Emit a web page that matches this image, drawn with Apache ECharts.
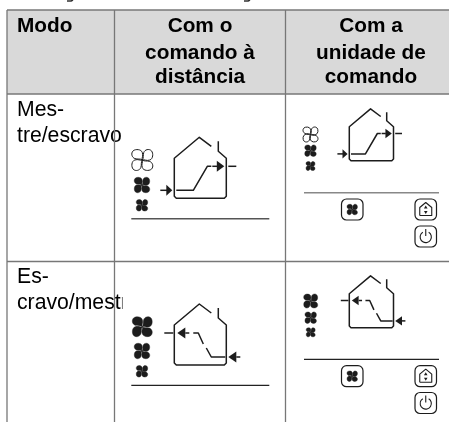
<!DOCTYPE html>
<html><head><meta charset="utf-8">
<style>html,body{margin:0;padding:0;background:#fff}#c{width:449px;height:422px}</style>
<script src="https://cdn.jsdelivr.net/npm/echarts@6/dist/echarts.min.js"></script>
</head><body><div id="c"></div>
<script>
// ---- content ----
const headerLabels = ['Modo', ['Com o','comando à','distância'], ['Com a','unidade de','comando']];
const modeLabels = [['Mes-','tre/escravo'], ['Es-','cravo/mestr']];
const fanStates = [['outline','filled','filled'], ['filled','filled','filled']];
const flowDirections = ['in', 'out'];

// ---- layout (in page pixels, mapped through hidden value axes) ----
const W = 449, H = 422;
const ink = '#1c1c1c';
const els = [];
const poly = (pts, lw=1.5, col=ink, z=2) => els.push({k:'poly', pts, lw, col, z});
const rect = (x,y,w,h,fill,z=0,r=0,stroke=null,lw=1) => els.push({k:'rect', x,y,w,h,fill,z,r,stroke,lw});
const text = (s,x,y,bold,align='left',z=1) => els.push({k:'text', s,x,y,bold,align,z});
const tri = (tip,base,half) => els.push({k:'poly', pts:[[tip,base[1]],[base[0],base[1]-half],[base[0],base[1]+half]], lw:0, col:ink, z:2, fill:true});

// petal-based fan path in a 100x100 box
function fanPath(){
  const petal = [[50,50],[46,40],[56,30],[50,14],[45,-2],[18,-4],[6,6],[-6,18],[0,38],[14,43],[28,48],[40,42],[50,50]];
  const rot = (p,n)=>{let [x,y]=p;for(let i=0;i<n;i++){[x,y]=[100-y,x];}return [x.toFixed(1),y.toFixed(1)];};
  let d='';
  for(let n=0;n<4;n++){
    const q=petal.map(p=>rot(p,n));
    d+=`M${q[0][0]} ${q[0][1]}`;
    for(let i=1;i<q.length;i+=3) d+=`C${q[i][0]} ${q[i][1]} ${q[i+1][0]} ${q[i+1][1]} ${q[i+2][0]} ${q[i+2][1]}`;
    d+='Z';
  }
  return d;
}
const FAN = fanPath();
const fan = (cx,cy,size,outline) => els.push({k:'fan',cx,cy,size,outline,z:2});

// table
rect(7,10,W-7,84,'#d9d9d9',0);
const gridCol = '#777';
[[7,10,7,H],[114.5,10,114.5,H],[285.5,10,285.5,H],[7,10,W,10],[7,94,W,94],[7,261.5,W,261.5]]
  .forEach(l=>poly([[l[0],l[1]],[l[2],l[3]]],1.3,gridCol,3));

// descender fragments of the cropped line above the table
poly([[67,1],[71,1],[73,0]],1.6,'#333');
poly([[244,1],[248,1],[250,0]],1.6,'#333');

// header
text(headerLabels[0],17,32,true);
const base=[32,58.5,83];
headerLabels[1].forEach((s,i)=>text(s,200,base[i],true,'center'));
headerLabels[2].forEach((s,i)=>text(s,371,base[i],true,'center'));
// row labels
const rowBase=[[116,142],[283,309]];
modeLabels.forEach((ls,r)=>ls.forEach((s,i)=>text(s,17,rowBase[r][i],false)));
rect(122.5,292,30,24,'#fff',1);

// panels: origin + scale
function house(o,s,flow){
  const P=(x,y)=>[o[0]+x*s,o[1]+y*s];
  poly([P(37,-52),P(25,-61),P(0,-40),P(0,-2),P(2,0),P(50,0),P(52,-2),P(52,-40),P(44,-47),P(44,-57)],1.5);
  if(flow==='in'){
    poly([P(-14,-8),P(-6,-8)],1.5);
    tri(P(-2,-8)[0],P(-8,-8),5.5*s);
    poly([P(2,-8),P(19,-8),P(33,-32),P(37,-32)],1.5);
    poly([P(38,-32),P(43,-32)],1.5);
    tri(P(50,-32)[0],P(42.5,-32),5.5*s);
    poly([P(54,-32),P(62,-32)],1.5);
  } else {
    poly([P(-10,-32),P(-1,-32)],1.5);
    tri(P(3,-32)[0],P(11,-32),5.5*s);
    poly([P(11,-32),P(15,-32)],1.5);
    poly([P(19,-32),P(24,-32),P(29,-21)],1.5);
    poly([P(32,-17),P(37,-8),P(51,-8)],1.5);
    tri(P(54,-8)[0],P(62,-8),5.5*s);
    poly([P(62,-8),P(66,-8)],1.5);
  }
}
function buttons(x1,x2,y1,y2){
  const bw=21.5,bh=21;
  rect(x1,y1,bw,bh,'#fff',2,5,ink,1.2);
  fan(x1+bw/2,y1+bh/2,10.5,false);
  rect(x2,y1,bw,bh,'#fff',2,5,ink,1.2);
  const cx=x2+bw/2, cy=y1+bh/2;
  poly([[cx-6,cy+6],[cx-6,cy-2],[cx,cy-7],[cx+6,cy-2],[cx+6,cy+6],[cx-6,cy+6]],1.1);
  els.push({k:'poly',pts:[[cx,cy-4],[cx-1.8,cy-1],[cx+1.8,cy-1]],lw:0,col:ink,z:2,fill:true});
  els.push({k:'poly',pts:[[cx,cy+4.5],[cx-1.8,cy+1.5],[cx+1.8,cy+1.5]],lw:0,col:ink,z:2,fill:true});
  rect(x2,y2,bw,bh,'#fff',2,5,ink,1.2);
  const px=x2+bw/2, py=y2+bh/2+0.5;
  els.push({k:'arc',cx:px,cy:py,r:5.6,z:3});
  poly([[px,py-8],[px,py-1]],1.1);
}

// row 1 left
fan(142.3,160,21,fanStates[0][0]==='outline');
fan(142,185,15.5,false); fan(142,205.3,11.5,false);
poly([[131.3,218.7],[269.3,218.7]],1.6,'#555');
house([174.3,198.3],1,flowDirections[0]);
// row 1 right
fan(310.5,134.5,15,true);
fan(310.5,150.7,11.5,false); fan(310.5,166,9,false);
poly([[304,192.8],[439,192.8]],1.6,'#888');
house([349.3,160.7],.85,flowDirections[0]);
buttons(341.5,415,199,226);
// row 2 left
fan(142.3,326.7,20,false);
fan(142,351,15.5,false); fan(142,371.3,11.5,false);
poly([[131.3,385.3],[269.3,385.3]],1.3,'#222');
house([174.3,365],1,flowDirections[1]);
// row 2 right
fan(310.7,301,14,false);
fan(310.7,317.7,11.5,false); fan(310.7,332.3,9,false);
poly([[304,359.3],[439,359.3]],1.2,'#222');
house([349.3,327.7],.85,flowDirections[1]);
buttons(341.5,415,365.7,392.5);

// ---- render ----
function render(params, api){
  const e=els[api.value(0)];
  const c=(x,y)=>api.coord([x,y]);
  if(e.k==='poly'){
    const pts=e.pts.map(p=>c(p[0],p[1]));
    if(e.fill) return {type:'polygon',shape:{points:pts},style:{fill:e.col},z2:e.z};
    return {type:'polyline',shape:{points:pts},style:{stroke:e.col,lineWidth:e.lw,fill:null,lineJoin:'round',lineCap:'butt'},z2:e.z};
  }
  if(e.k==='rect'){
    const a=c(e.x,e.y),b=c(e.x+e.w,e.y+e.h);
    return {type:'rect',shape:{x:a[0],y:a[1],width:b[0]-a[0],height:b[1]-a[1],r:e.r},style:{fill:e.fill,stroke:e.stroke,lineWidth:e.lw},z2:e.z};
  }
  if(e.k==='text'){
    const a=c(e.x,e.y);
    return {type:'text',style:{text:e.s,x:a[0],y:a[1]-16,font:(e.bold?'bold 20.8px ':'21.2px ')+'"Liberation Sans", Arial, sans-serif',fill:'#000',textAlign:e.align,textVerticalAlign:'top'},z2:e.z};
  }
  if(e.k==='fan'){
    const a=c(e.cx-e.size/2,e.cy-e.size/2),b=c(e.cx+e.size/2,e.cy+e.size/2);
    return {type:'path',shape:{pathData:FAN,x:a[0],y:a[1],width:b[0]-a[0],height:b[1]-a[1],layout:'cover'},
      style:e.outline?{fill:'#fff',stroke:ink,lineWidth:1}:{fill:ink,stroke:ink,lineWidth:.4},z2:e.z};
  }
  if(e.k==='arc'){
    const a=c(e.cx,e.cy);
    return {type:'arc',shape:{cx:a[0],cy:a[1],r:e.r,startAngle:-Math.PI/2+0.55,endAngle:-Math.PI/2-0.55,clockwise:true},style:{stroke:ink,lineWidth:1.1,fill:null},z2:e.z};
  }
}
const chart=echarts.init(document.getElementById('c'),null,{renderer:'canvas'});
chart.setOption({
  animation:false,
  grid:{left:0,right:0,top:0,bottom:0},
  xAxis:{type:'value',min:0,max:W,show:false},
  yAxis:{type:'value',min:0,max:H,inverse:true,show:false},
  series:[{type:'custom',coordinateSystem:'cartesian2d',clip:false,silent:true,
    renderItem:render,encode:{x:0,y:1},data:els.map((e,i)=>[i,0])}]
});
</script></body></html>
